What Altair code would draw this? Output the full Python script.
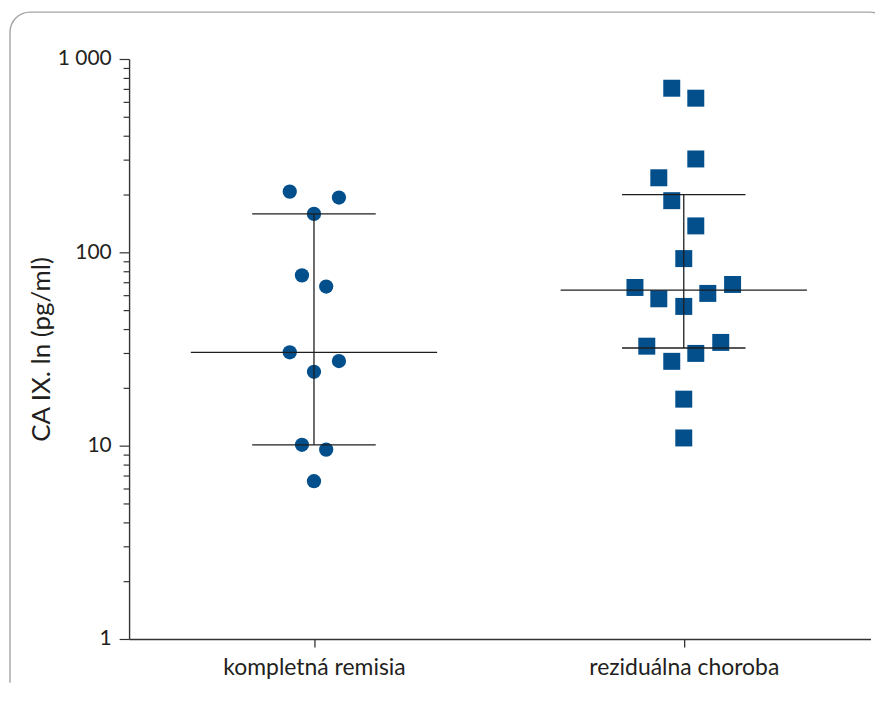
import math
import altair as alt
import pandas as pd

# ---- data ----
categories = ["kompletná remisia", "reziduálna choroba"]
category_pos = [1, 3]

remisia_values = [206, 192, 158, 76, 66.5, 30.4, 27.4, 24.1, 10.1, 9.54, 6.55]
remisia_xoff = [-0.131, 0.135, 0.0, -0.065, 0.066, -0.131, 0.135, 0.0, -0.065, 0.066, 0.0]

choroba_values = [706, 627, 304, 243, 185, 137, 92.8, 65.8, 68.2, 61.3, 57.5, 52.5,
                  34.2, 32.7, 30.0, 27.3, 17.4, 10.96]
choroba_xoff = [-0.065, 0.065, 0.065, -0.135, -0.065, 0.065, 0.0, -0.264, 0.264, 0.13,
                -0.135, 0.0, 0.2, -0.2, 0.065, -0.065, 0.0, 0.0]

medians = [30.4, 63.7]
q1 = [10.1, 32.0]
q3 = [158, 199]

y_major = [1, 10, 100, 1000]
y_ticks = [m * d for d in [1, 10, 100] for m in range(1, 10)] + [1000]

# ---- styling ----
FONT = "Lato"
BLUE = "#024f8c"
LINE = "#1e1e1e"
TXT = "#231f20"
FRAME = "#a3a3a3"
MED_HW = 0.666
IQR_HW = 0.334
W, H = 744, 582
PAD = {"left": 121.5, "top": 50, "right": 4.5, "bottom": 44}

rem = pd.DataFrame({"x": [category_pos[0] + o for o in remisia_xoff], "v": remisia_values})
cho = pd.DataFrame({"x": [category_pos[1] + o for o in choroba_xoff], "v": choroba_values})
summ = pd.DataFrame({"pos": category_pos, "med": medians, "q1": q1, "q3": q3})

xscale = alt.Scale(domain=[0, 4.01], nice=False, zero=False)
yscale = alt.Scale(type="log", domain=[1, 1000], nice=False)

label_expr = " : ".join(
    f"datum.value == {p} ? '{c}'" for p, c in zip(category_pos, categories)
) + " : ''"

xaxis = alt.Axis(values=category_pos, labelExpr=label_expr, title=None, grid=False,
                 tickSize=8, labelPadding=10, labelFontSize=23, labelFont=FONT,
                 labelLimit=500, labelColor=TXT, domainColor="#333", tickColor="#333",
                 domainWidth=1.4, tickWidth=1.3)

major_test = f"indexof({y_major}, datum.value) >= 0"
yaxis = alt.Axis(values=y_ticks, grid=False, labelOverlap=False, labelFlush=False,
                 labelExpr=f"{major_test} ? (datum.value == 1000 ? '1 000' : datum.label) : ''",
                 tickSize={"condition": {"test": major_test, "value": 10}, "value": 6},
                 labelPadding=8, labelFontSize=21, labelFont=FONT, labelColor=TXT,
                 title="CA IX. ln (pg/ml)", titleFont=FONT, titleFontSize=26,
                 titleFontWeight="normal", titleColor=TXT, titlePadding=3,
                 domainColor="#333", tickColor="#333", domainWidth=1.4, tickWidth=1.2)

base_x = alt.X("x:Q", scale=xscale, axis=xaxis)
base_y = alt.Y("v:Q", scale=yscale, axis=yaxis)

one = pd.DataFrame({"a": [0]})
# rounded frame (top and left edges, corners), kept inside the page
fl, ft, r = -119.5, -47, 20
fr = W - 0.5
frame_top = alt.Chart(one).mark_rule(color=FRAME, strokeWidth=1.4).encode(
    x=alt.value(fl + r), x2=alt.value(fr), y=alt.value(ft))
frame_left = alt.Chart(one).mark_rule(color=FRAME, strokeWidth=1.4).encode(
    x=alt.value(fl), y=alt.value(ft + r), y2=alt.value(H + PAD["bottom"]))
arc_tl = alt.Chart(one).mark_arc(
    radius=r + 0.7, radius2=r - 0.7, theta=1.5 * math.pi, theta2=2 * math.pi, color=FRAME
).encode(x=alt.value(fl + r), y=alt.value(ft + r))
arc_tr = alt.Chart(one).mark_arc(
    radius=r + 0.7, radius2=r - 0.7, theta=0, theta2=0.25, color=FRAME
).encode(x=alt.value(fr), y=alt.value(ft + r))

pts_rem = alt.Chart(rem).mark_point(filled=True, shape="circle", size=205, opacity=1,
                                    color=BLUE).encode(x=base_x, y=base_y)
pts_cho = alt.Chart(cho).mark_point(filled=True, shape="square", size=290, opacity=1,
                                    color=BLUE).encode(x=base_x, y=base_y)

vline = alt.Chart(summ).mark_rule(color=LINE, strokeWidth=1.3).encode(
    x=alt.X("pos:Q", scale=xscale, axis=xaxis),
    y=alt.Y("q1:Q", scale=yscale, axis=yaxis), y2="q3:Q")

med_line = alt.Chart(summ).transform_calculate(
    a=f"datum.pos - {MED_HW}", b=f"datum.pos + {MED_HW}"
).mark_rule(color=LINE, strokeWidth=1.3).encode(
    x=alt.X("a:Q", scale=xscale, axis=xaxis), x2="b:Q",
    y=alt.Y("med:Q", scale=yscale, axis=yaxis))

q_df = summ.melt(id_vars=["pos"], value_vars=["q1", "q3"], value_name="qv")
q_lines = alt.Chart(q_df).transform_calculate(
    a=f"datum.pos - {IQR_HW}", b=f"datum.pos + {IQR_HW}"
).mark_rule(color=LINE, strokeWidth=1.3).encode(
    x=alt.X("a:Q", scale=xscale, axis=xaxis), x2="b:Q",
    y=alt.Y("qv:Q", scale=yscale, axis=yaxis))

chart = alt.layer(frame_top, frame_left, arc_tl, arc_tr,
                  pts_rem, pts_cho, vline, med_line, q_lines).properties(
    width=W, height=H,
    autosize=alt.AutoSizeParams(type="none"),
    padding=PAD,
    background="white",
).configure_view(stroke=None)

chart.save("out.html", embed_options={"renderer": "svg", "actions": False})
